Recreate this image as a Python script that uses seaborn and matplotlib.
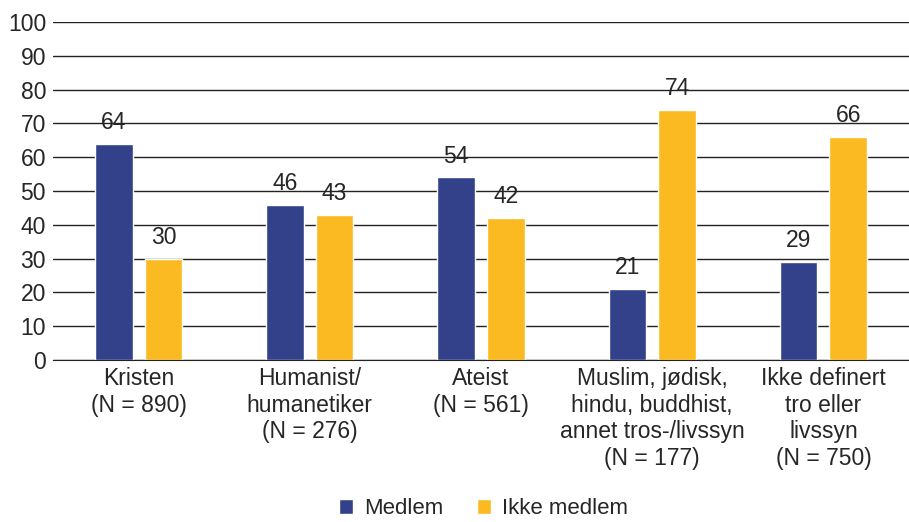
import matplotlib
matplotlib.use('Agg')
import matplotlib.pyplot as plt
import seaborn as sns
import pandas as pd


categories = ['Kristen\n(N = 890)', 'Humanist/\nhumanetiker\n(N = 276)', 'Ateist\n(N = 561)',
              'Muslim, jødisk,\nhindu, buddhist,\nannet tros-/livssyn\n(N = 177)',
              'Ikke definert\ntro eller\nlivssyn\n(N = 750)']
medlem = [64, 46, 54, 21, 29]
ikke_medlem = [30, 43, 42, 74, 66]
series = ['Medlem', 'Ikke medlem']
colors = ['#32418a', '#fbba22']

df = pd.DataFrame({
    'kategori': categories * 2,
    'verdi': medlem + ikke_medlem,
    'gruppe': [series[0]] * len(categories) + [series[1]] * len(categories),
})

sns.set_style('white')
plt.rcParams['font.family'] = ['Liberation Sans', 'DejaVu Sans']

fig = plt.figure(figsize=(9.09, 5.22), dpi=100)
ax = fig.add_axes([0.0583, 0.3103, 0.9417, 0.6476])

sns.barplot(data=df, x='kategori', y='verdi', hue='gruppe', palette=colors,
            width=0.58, gap=0.24, ax=ax, saturation=1)

for c in ax.containers:
    ax.bar_label(c, fmt='%d', padding=7, fontsize=16.5)

ax.set_ylim(0, 100)
ax.set_yticks(range(0, 101, 10))
ax.set_xlim(-0.5, 4.5)
ax.yaxis.grid(True, color='#222222', linewidth=1)
ax.set_axisbelow(True)
for s in ['left', 'right', 'top']:
    ax.spines[s].set_visible(False)
ax.spines['bottom'].set_color('#222222')
ax.tick_params(axis='both', labelsize=16.5, length=0)
ax.tick_params(axis='x', pad=5)
ax.tick_params(axis='y', pad=5)
ax.set_xlabel('')
ax.set_ylabel('')

handles, labels = ax.get_legend_handles_labels()
ax.get_legend().remove()
fig.legend(handles, labels, loc='center', bbox_to_anchor=(0.532, 0.026), ncol=2,
           frameon=False, fontsize=16, handlelength=0.65, handleheight=0.65,
           handletextpad=0.5, columnspacing=1.5, borderpad=0)

fig.savefig('out.png', dpi=100)
